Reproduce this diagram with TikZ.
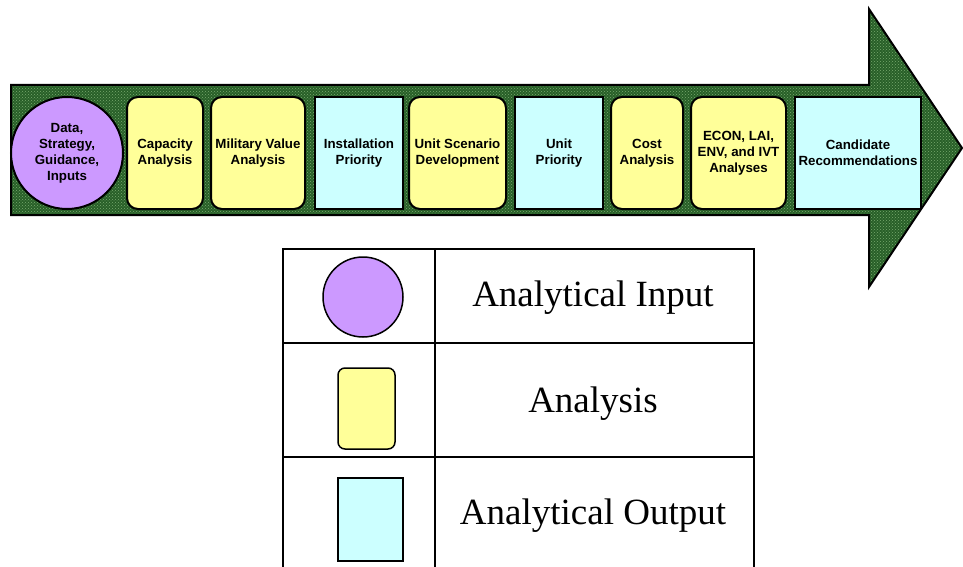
\documentclass[tikz,border=0pt]{standalone}
\usepackage{fontspec}
\setmainfont{Liberation Serif}
\newfontfamily\boxfont{Liberation Sans}
\usetikzlibrary{patterns}
\definecolor{inpurple}{HTML}{CC99FF}
\definecolor{anyellow}{HTML}{FFFF99}
\definecolor{outcyan}{HTML}{CCFFFF}
\definecolor{arrowdark}{RGB}{40,95,40}
\definecolor{arrowdot}{RGB}{120,170,110}
\tikzset{
  stage/.style={draw=black, line width=2pt, inner sep=1pt, align=center,
    font=\boxfont\bfseries\fontsize{13.3}{16}\selectfont, minimum height=112pt},
  inbox/.style={stage, circle, fill=inpurple, minimum size=112pt},
  anbox/.style={stage, rectangle, rounded corners=11pt, fill=anyellow},
  outbox/.style={stage, rectangle, fill=outcyan},
  legline/.style={line width=2pt},
  legtext/.style={font=\fontsize{37}{42}\selectfont, inner sep=0pt},
}
\begin{document}
\begin{tikzpicture}[x=1pt,y=-1pt]
\useasboundingbox (0,0) rectangle (963,567);
\clip (0,0) rectangle (963,567);
% big arrow
\path[fill=arrowdark] (11,85) -- (869,85) -- (869,9) -- (962,148) -- (869,287) -- (869,215) -- (11,215) -- cycle;
\path[pattern=crosshatch dots, pattern color=arrowdot] (11,85) -- (869,85) -- (869,9) -- (962,148) -- (869,287) -- (869,215) -- (11,215) -- cycle;
\draw[line width=2pt, line join=miter] (11,85) -- (869,85) -- (869,9) -- (962,148) -- (869,287) -- (869,215) -- (11,215) -- cycle;
% stages
\node[inbox] (data) at (67,153) {Data,\\Strategy,\\Guidance,\\Inputs};
\node[anbox, minimum width=76pt] (cap) at (165,153) {Capacity\\Analysis};
\node[anbox, minimum width=94pt] (mil) at (258,153) {Military Value\\Analysis};
\node[outbox, minimum width=88pt] (inst) at (359,153) {Installation\\Priority};
\node[anbox, minimum width=97pt] (scen) at (457.5,153) {Unit Scenario\\Development};
\node[outbox, minimum width=88pt] (upri) at (559,153) {Unit\\Priority};
\node[anbox, minimum width=72pt] (cost) at (647,153) {Cost\\Analysis};
\node[anbox, minimum width=95pt] (econ) at (738.5,153) {ECON, LAI,\\ENV, and IVT\\Analyses};
\node[outbox, minimum width=126pt] (cand) at (858,153) {Candidate\\Recommendations};
% legend table
\draw[legline] (283,570) -- (283,249) -- (754,249) -- (754,570);
\draw[legline] (435,249) -- (435,570);
\draw[legline] (283,343) -- (754,343);
\draw[legline] (283,457) -- (754,457);
\node[draw=black, line width=1.5pt, circle, fill=inpurple, minimum size=80pt, inner sep=0pt] (legin) at (363,297) {};
\node[draw=black, line width=1.5pt, rectangle, rounded corners=7pt, fill=anyellow, minimum width=57pt, minimum height=81pt, inner sep=0pt] (legan) at (366.5,408.5) {};
\node[draw=black, line width=1.5pt, rectangle, fill=outcyan, minimum width=65pt, minimum height=83pt, inner sep=0pt] (legout) at (370.5,519.5) {};
\node[legtext] (tin) at (593,298) {Analytical Input};
\node[legtext] (tan) at (593,404) {Analysis};
\node[legtext] (tout) at (593,516) {Analytical Output};
\end{tikzpicture}
\end{document}
